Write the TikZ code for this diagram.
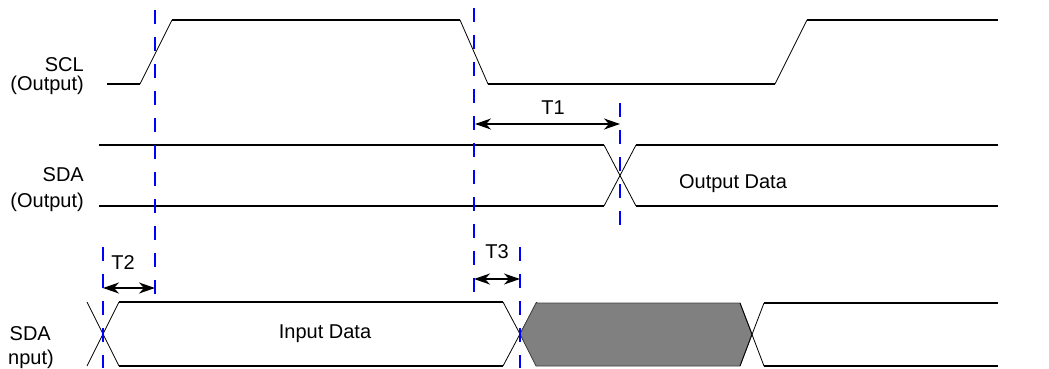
\documentclass[tikz,border=0pt]{standalone}
\usepackage{fontspec}
\setmainfont{Liberation Sans}
\usetikzlibrary{arrows.meta,positioning}

\tikzset{
  sig/.style={line width=1.6pt},
  edge/.style={line width=0.8pt},
  guide/.style={blue,line width=2pt,dash pattern=on 14pt off 13pt},
  span/.style={line width=1.6pt,{Stealth[length=16pt,width=11pt,inset=5pt]}-{Stealth[length=16pt,width=11pt,inset=5pt]}},
  lbl/.style={font=\fontsize{20}{24}\selectfont,inner sep=0pt}
}

\begin{document}
\begin{tikzpicture}[x=1pt,y=-1pt]
	  \useasboundingbox (0,0) rectangle (1049,368);
	  % labels
	  \node (scl) [lbl,anchor=base east] at (84,71) {SCL};
	  \node (sclo) [lbl,anchor=base east] at (84,90) {(Output)};
	  \node (sdao) [lbl,anchor=base east] at (84,181) {SDA};
	  \node (sdaoo) [lbl,anchor=base east] at (84,207) {(Output)};
	  \node (sdai) [lbl,anchor=base east] at (51,340) {SDA};
	  \node (sdaii) [lbl,anchor=base east] at (54,364) {nput)};
	  % SCL
	  \draw[sig] (107,84) -- (140,84);
	  \draw[edge] (140,84) -- (172,20);
	  \draw[sig] (172,20) -- (460,20);
	  \draw[edge] (460,20) -- (488,84);
	  \draw[sig] (488,84) -- (775,84);
	  \draw[edge] (775,84) -- (807,20);
	  \draw[sig] (807,20) -- (998,20);
	  % SDA output
	  \draw[sig] (99,145) -- (604,145);
	  \draw[sig] (99,206) -- (604,206);
	  \draw[edge] (604,145) -- (636,206);
	  \draw[edge] (604,206) -- (636,145);
	  \draw[sig] (636,145) -- (998,145);
	  \draw[sig] (636,206) -- (998,206);
	  \node (odata) [lbl,anchor=base] at (733,188) {Output Data};
	  % SDA input
	  \draw[edge] (87,302) -- (119,366);
	  \draw[edge] (87,366) -- (119,302);
	  \draw[sig] (119,302) -- (503,302);
	  \draw[sig] (119,366) -- (503,366);
	  \draw[edge] (503,302) -- (537,366);
	  \draw[edge] (503,366) -- (537,302);
	  \filldraw[fill=gray,draw=black!75,line width=0.8pt] (520,334) -- (536,303) -- (740,303) -- (752,334) -- (740,366) -- (536,366) -- cycle;
	  \draw[edge] (740,303) -- (764,366);
	  \draw[edge] (740,366) -- (764,303);
	  \draw[sig] (764,303) -- (998,303);
	  \draw[sig] (764,366) -- (998,366);
	  \node (idata) [lbl,anchor=base] at (325,338) {Input Data};
	  % guides
	  \coordinate (g1t) at (155,10);  \coordinate (g1b) at (155,300);
	  \coordinate (g2t) at (474,8);   \coordinate (g2b) at (474,305);
	  \coordinate (g3t) at (620,103); \coordinate (g3b) at (620,232);
	  \coordinate (g4t) at (103,247); \coordinate (g4b) at (103,368);
	  \coordinate (g5t) at (520,247); \coordinate (g5b) at (520,368);
	  \draw[guide] (g1t) -- (g1b);
	  \draw[guide] (g2t) -- (g2b);
	  \draw[guide] (g3t) -- (g3b);
	  \draw[guide] (g4t) -- (g4b);
	  \draw[guide] (g5t) -- (g5b);
	  % timings
	  \coordinate (t1a) at (475,124); \coordinate (t1b) at (620,124);
	  \coordinate (t2a) at (103,288); \coordinate (t2b) at (155,288);
	  \coordinate (t3a) at (474,279); \coordinate (t3b) at (520,279);
	  \draw[span] (t1a) -- (t1b);
	  \draw[span] (t2a) -- (t2b);
	  \draw[span] (t3a) -- (t3b);
	  \node (T1) [lbl,anchor=base] at (553,114) {T1};
	  \node (T2) [lbl,anchor=base] at (123,269) {T2};
	  \node (T3) [lbl,anchor=base] at (497,258) {T3};
	\end{tikzpicture}
\end{document}
